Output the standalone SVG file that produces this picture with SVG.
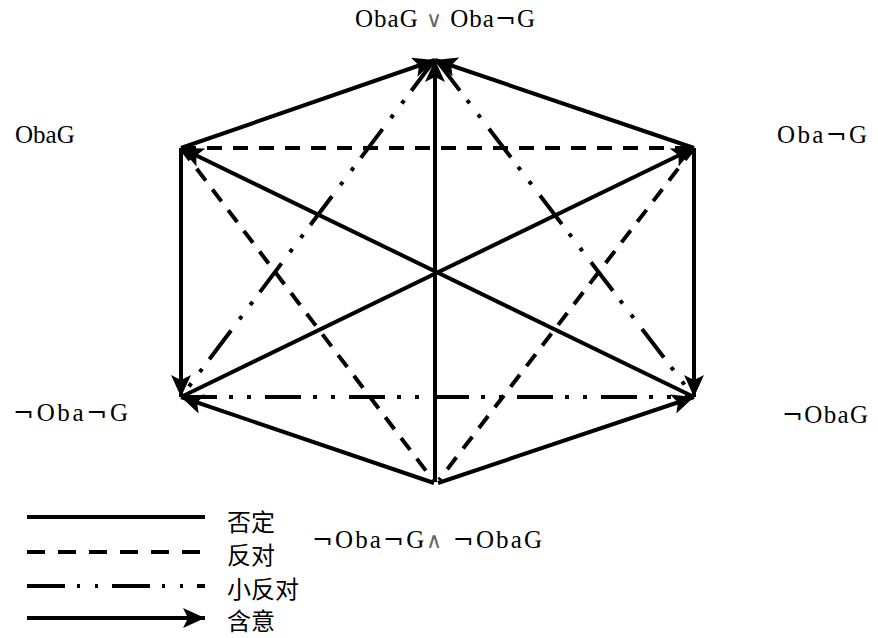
<svg xmlns="http://www.w3.org/2000/svg" width="878" height="638" viewBox="0 0 878 638">
<style>
.ln{stroke:#000;stroke-width:4;fill:none}
.dash{stroke-dasharray:15 11}
.dd{stroke-dasharray:36 12 4 14 4 14}
.lbl{font-family:"Liberation Serif","Times New Roman",serif;font-size:25px;fill:#000}
.neg{font-family:"DejaVu Serif",serif}
.op{font-family:"DejaVu Sans",sans-serif;font-weight:200;fill:#666;font-size:22px}
.leg{font-family:"Noto Sans CJK SC","Noto Sans",sans-serif;font-size:24px;fill:#000}
</style>
<defs>
<marker id="ah" markerUnits="userSpaceOnUse" viewBox="0 0 22 20" refX="22" refY="10" markerWidth="22" markerHeight="20" orient="auto">
<path d="M0,0 L22,10 L0,20 L5,10 z" fill="#000"/>
</marker>
</defs>
<rect width="878" height="638" fill="#fff"/>
<g id="connectors">
<line class="ln dash" x1="181" y1="148" x2="694" y2="148"/>
<line class="ln dash" x1="181" y1="148" x2="433" y2="480"/>
<line class="ln dash" x1="694" y1="148" x2="439" y2="480"/>
<line class="ln dd" x1="181" y1="397" x2="694" y2="397"/>
<line class="ln dd" x1="433" y1="62" x2="181" y2="397"/>
<line class="ln dd" x1="438" y1="62" x2="694" y2="397"/>
<line class="ln" x1="181" y1="148" x2="435" y2="60" marker-end="url(#ah)"/>
<line class="ln" x1="694" y1="148" x2="435" y2="60" marker-end="url(#ah)"/>
<line class="ln" x1="435" y1="482" x2="435" y2="60" marker-end="url(#ah)"/>
<line class="ln" x1="181" y1="148" x2="181" y2="397" marker-end="url(#ah)"/>
<line class="ln" x1="694" y1="148" x2="694" y2="397" marker-end="url(#ah)"/>
<line class="ln" x1="434" y1="483" x2="181" y2="397" marker-end="url(#ah)"/>
<line class="ln" x1="438" y1="483" x2="694" y2="397" marker-end="url(#ah)"/>
<line class="ln" x1="181" y1="397" x2="694" y2="148" marker-end="url(#ah)"/>
<line class="ln" x1="694" y1="397" x2="181" y2="148" marker-end="url(#ah)"/>
</g>
<g id="node-top"><text class="lbl" x="355" y="27" textLength="180" lengthAdjust="spacing">ObaG <tspan class="op">∨</tspan> Oba<tspan class="neg">¬</tspan>G</text></g>
<g id="node-ul"><text class="lbl" x="15" y="143">ObaG</text></g>
<g id="node-ur"><text class="lbl" x="777" y="143" textLength="90" lengthAdjust="spacing">Oba<tspan class="neg">¬</tspan>G</text></g>
<g id="node-ll"><text class="lbl" x="13" y="421" textLength="115" lengthAdjust="spacing"><tspan class="neg">¬</tspan>Oba<tspan class="neg">¬</tspan>G</text></g>
<g id="node-lr"><text class="lbl" x="782" y="423" textLength="86" lengthAdjust="spacing"><tspan class="neg">¬</tspan>ObaG</text></g>
<g id="node-bottom"><text class="lbl" x="312" y="548" textLength="230" lengthAdjust="spacing"><tspan class="neg">¬</tspan>Oba<tspan class="neg">¬</tspan>G<tspan class="op">∧</tspan> <tspan class="neg">¬</tspan>ObaG</text></g>
<g id="legend">
<line class="ln" x1="27" y1="517" x2="205" y2="517"/>
<line class="ln" x1="27" y1="552" x2="205" y2="552" style="stroke-dasharray:18 13"/>
<line class="ln" x1="27" y1="586" x2="205" y2="586" style="stroke-dasharray:38 12 3 15 3 14"/>
<line class="ln" x1="27" y1="618" x2="205" y2="618" marker-end="url(#ah)"/>
<text class="leg" x="227" y="531">否定</text>
<text class="leg" x="227" y="564">反对</text>
<text class="leg" x="227" y="598">小反对</text>
<text class="leg" x="227" y="630">含意</text>
</g>
</svg>
